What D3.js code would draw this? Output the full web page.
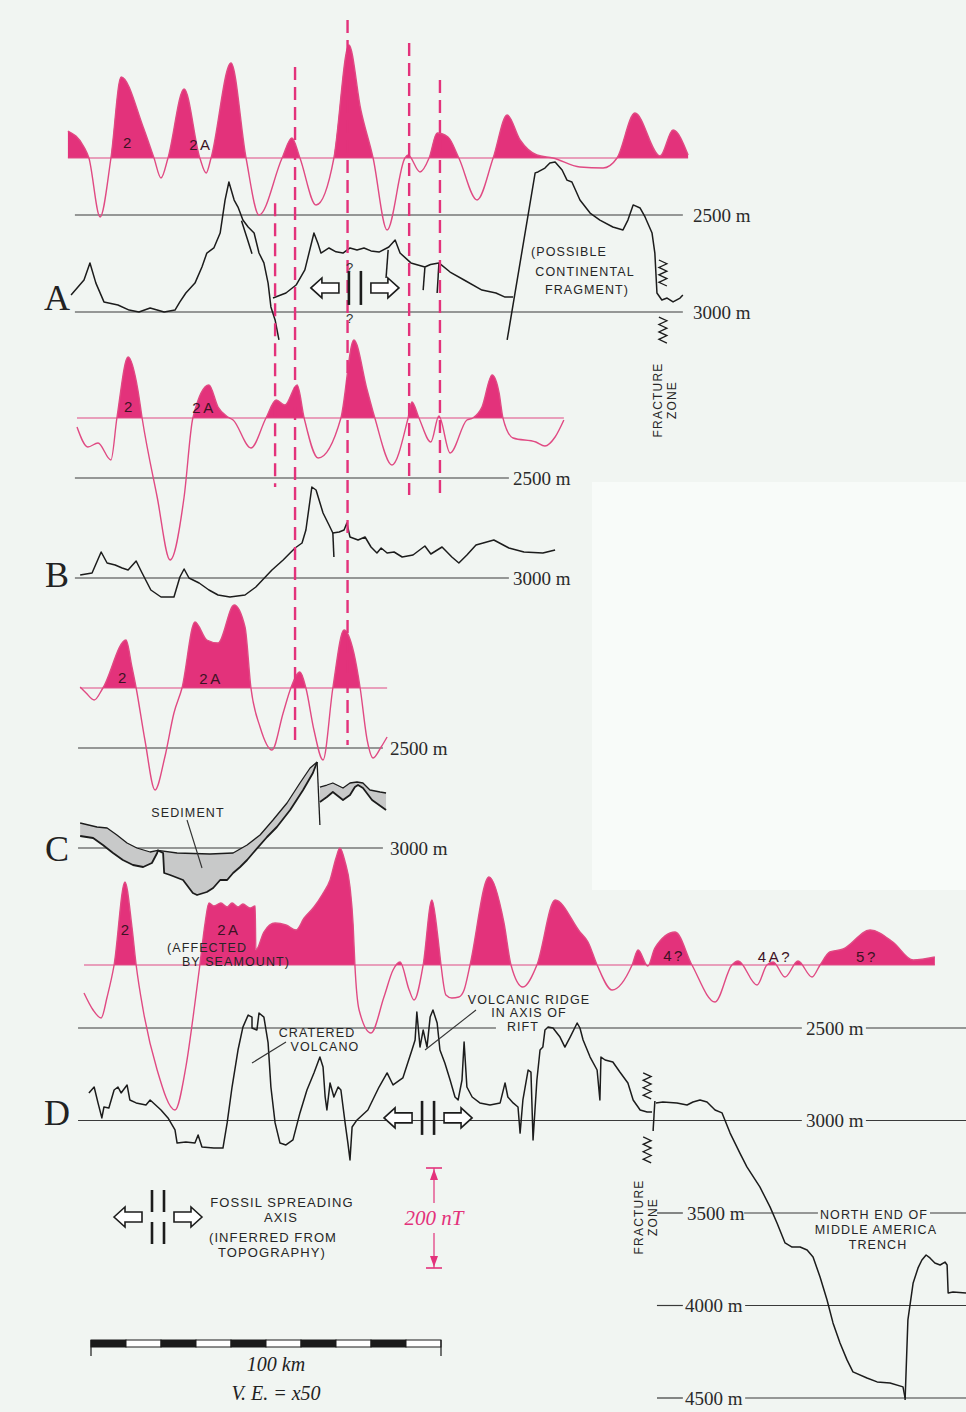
<!DOCTYPE html>
<html><head><meta charset="utf-8">
<script src="https://cdn.jsdelivr.net/npm/d3@7"></script>
<style>body{margin:0;background:#f2f6f3}svg{display:block}</style>
</head><body><svg id="c" width="966" height="1412"></svg>
<script>
// ---------------- DATA (x = distance in km, magnetics in nT, bathymetry in m) ----------------
const magA = [[19.4,54],[24.0,22],[25.4,0],[28.6,-118],[31.7,0],[34.6,162],[40.9,62],[44.0,0],[46.0,-40],[48.0,0],[52.6,138],[57.1,0],[58.9,-30],[60.3,0],[66.0,190],[70.3,0],[74.0,-114],[80.6,0],[83.4,40],[85.7,0],[90.3,-94],[95.4,0],[99.7,226],[103.1,96],[106.6,0],[110.6,-144],[115.7,0],[116.6,6],[120.0,-28],[122.6,0],[124.9,50],[128.0,42],[131.1,0],[136.3,-84],[140.9,0],[144.9,86],[148.6,36],[153.4,6],[158.0,0],[165.7,-18],[172.3,-20],[176.3,0],[181.4,90],[188.6,4],[192.3,56],[196.6,6]];
const magB = [[22.0,-18],[25.1,-58],[28.0,-50],[31.7,-84],[33.4,0],[36.6,122],[39.4,56],[40.6,0],[44.9,-158],[48.6,-284],[52.6,-158],[55.1,0],[59.7,66],[62.3,22],[65.1,2],[66.6,-4],[71.7,-60],[76.0,0],[78.9,36],[81.4,26],[84.9,66],[86.9,0],[90.9,-80],[97.4,0],[101.1,156],[104.9,56],[107.1,0],[112.0,-94],[116.6,0],[117.7,32],[119.7,0],[123.1,-48],[125.4,4],[128.6,-70],[133.4,-4],[135.1,0],[137.7,22],[140.6,86],[142.6,50],[143.7,0],[146.6,-40],[153.1,-48],[155.7,-56],[158.6,-38],[161.1,-4]];
const magC = [[22.9,2],[24.6,-10],[26.9,-24],[29.4,0],[36.0,96],[37.7,42],[38.9,0],[41.4,-104],[44.3,-204],[47.1,-138],[49.7,-50],[52.0,0],[55.7,132],[59.1,96],[62.3,90],[66.9,166],[70.0,122],[71.7,0],[74.3,-78],[77.7,-124],[80.9,-50],[83.1,0],[85.7,32],[87.4,0],[89.7,-84],[92.3,-144],[95.1,0],[98.3,116],[101.1,70],[102.9,0],[104.9,-104],[106.6,-140],[108.9,-118],[110.6,-98]];
const magD = [[24.0,-56],[26.6,-90],[28.9,-106],[30.6,-64],[32.6,0],[35.7,166],[37.7,76],[38.9,0],[40.9,-90],[44.9,-210],[50.0,-290],[53.1,-204],[55.7,-76],[57.1,0],[58.6,84],[59.7,124],[61.1,118],[63.1,124],[64.9,116],[66.3,124],[68.0,116],[69.4,122],[71.4,114],[72.9,118],[73.1,30],[75.4,66],[78.6,84],[81.7,80],[84.6,70],[86.9,94],[89.7,116],[92.0,140],[94.3,170],[96.0,214],[97.1,234],[98.6,206],[100.0,156],[100.9,80],[101.4,0],[102.6,-90],[106.0,-136],[109.7,-64],[112.3,-10],[114.3,6],[116.9,-50],[118.3,-70],[120.9,0],[123.4,130],[125.1,56],[126.0,0],[127.4,-60],[129.1,-66],[131.1,-64],[132.6,-50],[134.3,0],[139.7,176],[144.0,84],[146.0,0],[149.4,-44],[153.4,0],[158.6,130],[165.7,66],[168.0,46],[170.6,0],[174.9,-50],[180.6,0],[182.3,30],[185.1,-2],[187.1,34],[192.9,66],[197.7,0],[204.3,-74],[209.1,0],[210.9,8],[216.3,-40],[219.1,0],[220.9,6],[224.3,-24],[228.0,8],[232.0,-24],[234.3,0],[237.1,26],[240.9,32],[248.6,70],[255.1,46],[260.9,10],[267.1,16]];

const bathyA = [
 [[20.3,2912],[24.0,2835],[25.7,2747],[27.4,2851],[29.7,2948],[33.7,2964],[36.9,2990],[39.7,3000],[42.9,2979],[46.9,3000],[50.0,2990],[51.4,2948],[53.1,2902],[55.7,2851],[57.7,2768],[59.1,2696],[61.1,2670],[62.9,2593],[64.3,2423],[65.4,2330],[66.9,2423],[68.0,2459],[69.4,2526],[70.9,2562],[72.6,2593],[74.0,2696],[75.4,2747],[76.6,2851],[77.4,2974],[78.6,3041],[79.7,3144]],
 [[69.0,2530],[70.6,2620],[72.0,2700]],
 [[78.0,2928],[81.7,2902],[84.6,2861],[87.1,2783],[89.7,2593],[90.9,2650],[91.7,2696],[94.0,2670],[96.0,2690],[98.0,2696],[100.0,2670],[102.0,2680],[104.0,2670],[106.0,2685],[108.3,2691],[111.1,2665],[112.9,2629],[114.3,2696],[117.4,2747],[121.4,2768],[123.0,2755],[125.4,2747],[128.6,2794],[132.6,2835],[137.7,2887],[141.7,2902],[144.3,2923],[146.6,2923]],
 [[110.9,2680],[110.3,2825]],[[121.4,2770],[120.9,2887]],[[125.4,2750],[124.9,2902]],
 [[144.9,3144],[152.9,2283],[153.7,2278],[155.7,2258],[157.1,2232],[158.6,2227],[160.6,2268],[162.0,2320],[163.4,2330],[165.7,2423],[168.6,2490],[171.4,2526],[175.1,2562],[178.0,2577],[179.4,2526],[180.9,2448],[182.9,2464],[184.3,2510],[186.3,2593],[187.1,2696],[187.7,2902],[189.1,2938],[190.6,2928],[192.3,2948],[194.3,2928],[195.1,2912]]
];
const bathyB = [
 [[22.9,2985],[26.3,2975],[28.9,2870],[30.6,2925],[32.9,2935],[34.9,2950],[36.6,2960],[38.9,2915],[40.6,2975],[43.1,3060],[46.0,3095],[49.7,3095],[51.4,2995],[52.6,2955],[54.0,3000],[56.9,3025],[59.7,3060],[62.3,3085],[65.7,3095],[70.0,3085],[73.1,3045],[77.7,2960],[80.9,2910],[84.3,2850],[86.3,2825],[87.4,2760],[89.1,2545],[90.3,2560],[92.3,2675],[94.0,2735],[95.1,2775],[96.9,2770],[98.3,2760],[99.1,2725],[100.0,2795],[102.3,2810],[104.3,2795],[106.0,2845],[107.7,2875],[108.9,2850],[110.6,2875],[112.6,2870],[114.9,2895],[118.0,2885],[121.4,2840],[123.1,2880],[126.3,2845],[129.1,2895],[131.1,2925],[133.4,2885],[136.0,2835],[141.1,2810],[145.4,2850],[149.7,2870],[155.1,2875],[158.6,2860]],
 [[95.1,2775],[95.4,2895]]
];
// Profile C: sea floor (top of sediment) and basement (base of sediment)
const seaFloorC1 = [[22.9,2875],[27.7,2895],[30.6,2900],[33.4,2935],[36.3,2975],[39.1,3000],[42.9,3020],[45.1,3012],[50.6,3025],[60.0,3030],[66.6,3025],[70.6,2985],[74.3,2935],[78.0,2860],[82.0,2775],[85.7,2675],[88.6,2600],[90.6,2570]];
const basementC1 = [[22.9,2940],[26.6,2950],[29.4,2985],[32.3,3025],[35.1,3060],[38.0,3085],[40.9,3095],[43.4,3075],[44.9,3025],[45.1,3012],[46.6,3025],[46.9,3125],[48.6,3135],[52.3,3160],[55.1,3225],[56.3,3235],[59.1,3220],[60.9,3200],[62.9,3160],[64.9,3160],[66.6,3125],[68.6,3095],[70.6,3060],[72.3,3025],[76.3,2945],[79.1,2895],[82.9,2810],[86.6,2710],[89.4,2625],[90.6,2570]];
const seaFloorC2 = [[91.4,2695],[93.4,2685],[95.1,2675],[98.0,2700],[100.0,2675],[102.0,2670],[103.7,2675],[105.7,2710],[108.6,2720],[110.3,2725]];
const basementC2 = [[91.4,2770],[93.4,2745],[95.1,2720],[98.0,2760],[100.0,2735],[101.4,2695],[102.3,2685],[103.7,2700],[106.3,2760],[110.3,2810]];
const faultC = [[90.6,2570],[91.4,2885]];

const bathyD = [
 [[25.4,2851],[26.9,2819],[28.0,2905],[29.1,2986],[29.7,2927],[31.1,2932],[32.6,2835],[33.7,2819],[34.6,2851],[36.3,2808],[37.1,2889],[38.9,2905],[41.7,2916],[42.9,2889],[46.0,2943],[48.0,2986],[50.0,3051],[50.6,3122],[53.1,3116],[55.7,3122],[56.6,3078],[57.7,3143],[61.1,3149],[63.7,3149],[64.9,3013],[66.3,2819],[68.0,2619],[69.4,2495],[70.9,2430],[72.0,2441],[72.0,2500],[73.4,2511],[74.0,2419],[75.4,2441],[76.6,2581],[77.4,2819],[78.6,3013],[80.0,3122],[81.7,3132],[83.7,3105],[85.7,2959],[87.7,2835],[89.7,2743],[91.4,2657],[92.3,2711],[92.9,2873],[93.4,2943],[94.3,2797],[95.4,2873],[96.6,2819],[97.4,2835],[98.6,3013],[99.4,3122],[100.0,3213],[100.6,3035],[102.0,2997],[105.1,2943],[108.3,2819],[110.6,2743],[112.3,2808],[115.1,2770],[117.7,2619],[118.6,2565],[119.1,2414],[120.0,2603],[120.9,2511],[122.0,2603],[122.9,2441],[123.7,2403],[124.9,2473],[125.7,2619],[127.1,2689],[128.6,2781],[130.0,2873],[130.9,2889],[132.0,2781],[132.6,2576],[133.4,2819],[134.9,2873],[137.1,2905],[140.0,2916],[142.9,2905],[144.3,2797],[145.1,2873],[146.6,2905],[148.0,2927],[148.6,3068],[149.4,2889],[150.9,2727],[151.7,2738],[152.3,3105],[153.4,2781],[154.3,2619],[155.1,2603],[155.7,2511],[156.6,2495],[158.0,2500],[160.0,2549],[161.4,2603],[162.9,2549],[164.9,2473],[165.7,2500],[166.6,2565],[168.6,2657],[170.6,2727],[171.4,2889],[171.7,2657],[172.9,2673],[175.1,2684],[177.1,2738],[179.4,2797],[180.9,2889],[182.9,2943],[184.9,2954],[186.3,2954]],
 [[187.1,2895],[186.6,3057]],
 [[187.4,2905],[189.4,2900],[193.4,2905],[196.3,2916],[198.0,2900],[200.0,2889],[202.0,2900],[204.3,2943],[206.3,2959],[208.6,3068],[211.4,3176],[213.4,3251],[217.1,3359],[220.0,3467],[222.0,3554],[224.3,3662],[226.3,3684],[228.6,3684],[230.6,3700],[232.3,3738],[234.3,3846],[236.3,3970],[238.0,4094],[240.0,4203],[242.0,4294],[243.7,4359],[247.7,4392],[250.6,4413],[254.3,4419],[258.0,4440],[258.6,4500]],
 [[258.6,4511],[259.4,4078],[260.9,3878],[262.3,3797],[263.4,3754],[264.6,3727],[265.7,3743],[267.1,3770],[268.6,3781],[270.0,3765],[270.6,3781],[270.9,3932],[272.3,3927],[276.0,3932]]
];

// correlation lines (km, and the profile value at each end)
const dashLines = [
 {km:78.6, top:['A','d',2440], bot:['B','d',2545]},
 {km:84.3, top:['A','m',182], bot:['C','d',2485]},
 {km:99.3, top:['A','m',276], bot:['C','d',2485]},
 {km:116.9, top:['A','m',230], bot:['B','d',2585]},
 {km:125.7, top:['A','m',156], bot:['B','d',2585]}
];
const depthTicks = [
 {p:'A', depth:2500, segs:[[21.4,195.1]], label:'2500 m', at:198.0},
 {p:'A', depth:3000, segs:[[21.4,195.1]], label:'3000 m', at:198.0},
 {p:'B', depth:2500, segs:[[21.4,145.4]], label:'2500 m', at:146.6},
 {p:'B', depth:3000, segs:[[21.4,145.4]], label:'3000 m', at:146.6},
 {p:'C', depth:2500, segs:[[22.3,109.4]], label:'2500 m', at:111.4},
 {p:'C', depth:3000, segs:[[22.3,109.4]], label:'3000 m', at:111.4},
 {p:'D', depth:2500, segs:[[22.3,141.7],[156.6,229.1],[247.4,276]], label:'2500 m', at:230.3},
 {p:'D', depth:3000, segs:[[22.3,229.1],[247.4,276]], label:'3000 m', at:230.3},
 {p:'D', depth:3500, segs:[[187.7,195.1],[212.6,233.7],[265.7,276]], label:'3500 m', at:196.3},
 {p:'D', depth:4000, segs:[[187.7,195.1],[212.9,276]], label:'4000 m', at:195.7},
 {p:'D', depth:4500, segs:[[187.7,195.1],[212.9,276]], label:'4500 m', at:195.7}
];
// anomaly identifications: km position and the anomaly level (nT) where the label sits
const anomalyLabels = [
 {p:'A', km:36.3, nT:30, text:'2'}, {p:'A', km:57.4, nT:26, text:'2A'},
 {p:'B', km:36.6, nT:22, text:'2'}, {p:'B', km:58.3, nT:20, text:'2A'},
 {p:'C', km:34.9, nT:20, text:'2'}, {p:'C', km:60.3, nT:18, text:'2A'},
 {p:'D', km:35.7, nT:70, text:'2'}, {p:'D', km:65.4, nT:70, text:'2A'},
 {p:'D', km:192.6, nT:18, text:'4?'}, {p:'D', km:221.4, nT:16, text:'4A?'}, {p:'D', km:247.7, nT:16, text:'5?'}
];
const profileNames = ['A','B','C','D'];
const scaleBarKm = 100, scaleBarStep = 10, magBarNT = 200;

// ---------------- LAYOUT ----------------
const W = 966, H = 1412;
const L = {
 A:{base:158, dd:[2500,3000], dy:[215,312], ly:297},
 B:{base:418, dd:[2500,3000], dy:[478,578], ly:574},
 C:{base:688, dd:[2500,3000], dy:[748,848], ly:848},
 D:{base:965, dd:[2500,4500], dy:[1028,1398], ly:1112}
};
const PINK = '#e3327b', PINKLINE = '#e04a83', INK = '#1c1c1c', GRID = '#3a3a3a';
const SANS = '"Liberation Sans", Arial, sans-serif';
const SERIF = '"Liberation Serif", "DejaVu Serif", serif';

const svg = d3.select('#c');
const defs = svg.append('defs');
svg.append('rect').attr('width',W).attr('height',H).attr('fill','#f1f5f2');
svg.append('rect').attr('x',592).attr('y',482).attr('width',374).attr('height',408).attr('fill','#f8fbf9');

const x = d3.scaleLinear().domain([0,276]).range([0,W]);
const magY = p => d3.scaleLinear().domain([0,200]).range([L[p].base, L[p].base-100]);
const depY = p => d3.scaleLinear().domain(L[p].dd).range(L[p].dy);
const valY = (p,k,v) => k==='m' ? magY(p)(v) : depY(p)(v);

// depth reference lines
const gGrid = svg.append('g');
depthTicks.forEach(t => {
  const y = depY(t.p)(t.depth);
  t.segs.forEach(s => gGrid.append('line').attr('x1',x(s[0])).attr('x2',x(s[1])).attr('y1',y).attr('y2',y)
    .attr('stroke',GRID).attr('stroke-width',1.2));
  gGrid.append('text').attr('x',x(t.at)).attr('y',y).attr('dy','0.36em').text(t.label)
    .attr('font-family',SERIF).attr('font-size',19).attr('fill','#2a2a2a');
});

// sediment (profile C)
const yC = depY('C');
const pathL = d3.line().x(d=>x(d[0])).y(d=>yC(d[1]));
svg.append('path').attr('d', pathL(seaFloorC1.concat(basementC1.slice().reverse()))+'Z').attr('fill','#c8c9c9');
svg.append('path').attr('d', pathL(seaFloorC2.concat(basementC2.slice().reverse()))+'Z').attr('fill','#c8c9c9');
[seaFloorC1, basementC1, seaFloorC2, basementC2, faultC].forEach((s,i) =>
  svg.append('path').attr('d',pathL(s)).attr('fill','none').attr('stroke',INK)
    .attr('stroke-width', (i===1||i===3)?1.8:1.3).attr('stroke-linejoin','round'));

// magnetic anomalies
function drawMag(p, data){
  const y = magY(p);
  defs.append('clipPath').attr('id','clip'+p).append('rect').attr('x',0).attr('y',0).attr('width',W).attr('height',L[p].base);
  const area = d3.area().x(d=>x(d[0])).y0(y(0)).y1(d=>y(d[1])).curve(d3.curveMonotoneX);
  svg.append('path').attr('d',area(data)).attr('fill',PINK).attr('clip-path',`url(#clip${p})`);
  svg.append('line').attr('x1',x(data[0][0])).attr('x2',x(data[data.length-1][0]))
    .attr('y1',y(0)).attr('y2',y(0)).attr('stroke',PINKLINE).attr('stroke-width',1.2);
  const line = d3.line().x(d=>x(d[0])).y(d=>y(d[1])).curve(d3.curveMonotoneX);
  svg.append('path').attr('d',line(data)).attr('fill','none').attr('stroke',PINKLINE).attr('stroke-width',1.4);
}
drawMag('A',magA); drawMag('B',magB); drawMag('C',magC); drawMag('D',magD);

// bathymetry
function drawBathy(p, segs){
  const y = depY(p);
  const line = d3.line().x(d=>x(d[0])).y(d=>y(d[1]));
  segs.forEach(s => svg.append('path').attr('d',line(s)).attr('fill','none').attr('stroke',INK)
    .attr('stroke-width',1.5).attr('stroke-linejoin','round'));
}
drawBathy('A',bathyA); drawBathy('B',bathyB); drawBathy('D',bathyD);

// correlation dashed lines
dashLines.forEach(d => {
  svg.append('line').attr('x1',x(d.km)).attr('x2',x(d.km))
    .attr('y1',valY(...d.top)).attr('y2',valY(...d.bot))
    .attr('stroke',PINK).attr('stroke-width',2.4).attr('stroke-dasharray','13,7');
});

// anomaly labels
anomalyLabels.forEach(a => {
  svg.append('text').attr('x',x(a.km)).attr('y',magY(a.p)(a.nT)).attr('dy','0.35em').attr('text-anchor','middle')
    .attr('font-family',SANS).attr('font-size',15).attr('letter-spacing', a.text.length>1?2.5:0)
    .attr('fill','#3d1224').text(a.text);
});

// profile letters
profileNames.forEach(p => svg.append('text').attr('x',57).attr('y',L[p].ly).attr('dy','0.35em')
  .attr('text-anchor','middle').attr('font-family',SERIF).attr('font-size',36).attr('fill','#222').text(p));

// annotation text helper
function label(lines, cx, ys, size, anchor){
  lines.forEach((t,i)=> svg.append('text').attr('x',cx[i]!==undefined?cx[i]:cx[0]).attr('y',ys[i]).attr('dy','0.35em')
    .attr('text-anchor',anchor||'middle').attr('font-family',SANS).attr('font-size',size||12.5)
    .attr('letter-spacing',1.1).attr('fill','#262626').text(t));
}
label(['(POSSIBLE','CONTINENTAL','FRAGMENT)'], [569,585,587], [252,272,290]);
label(['SEDIMENT'], [188], [813]);
label(['(AFFECTED','BY SEAMOUNT)'], [207,236], [948,962]);
label(['CRATERED','VOLCANO'], [317,325], [1033,1047]);
label(['VOLCANIC RIDGE','IN AXIS OF','RIFT'], [529,529,523], [1000,1013,1027]);
label(['NORTH END OF','MIDDLE AMERICA','TRENCH'], [874,876,878], [1215,1230,1245]);
label(['FOSSIL SPREADING','AXIS','(INFERRED FROM','TOPOGRAPHY)'], [282,281,273,272], [1202,1217,1237,1252], 13);

// leader lines
[[187,820,202,868],[286,1042,252,1063],[476,1010,425,1050]].forEach(l =>
  svg.append('line').attr('x1',l[0]).attr('y1',l[1]).attr('x2',l[2]).attr('y2',l[3]).attr('stroke','#333').attr('stroke-width',1.1));

// fracture zone labels (rotated)
function fracture(cx, cy){
  const g = svg.append('g').attr('transform',`translate(${cx},${cy}) rotate(-90)`);
  g.append('text').attr('x',0).attr('y',-3).attr('text-anchor','middle').attr('font-family',SANS)
    .attr('font-size',12).attr('letter-spacing',1.2).attr('fill','#262626').text('FRACTURE');
  g.append('text').attr('x',0).attr('y',11).attr('text-anchor','middle').attr('font-family',SANS)
    .attr('font-size',12).attr('letter-spacing',1.2).attr('fill','#262626').text('ZONE');
}
fracture(665,400); fracture(646,1217);

// zigzag fracture symbols
function zigzag(cx, cy){
  const pts = d3.range(8).map(i => [cx + (i%2?4:-4), cy - 13 + i*26/7]);
  svg.append('path').attr('d', d3.line()(pts)).attr('fill','none').attr('stroke',INK).attr('stroke-width',1.3);
}
zigzag(x(189.4), depY('A')(2799)); zigzag(x(189.4), depY('A')(3093));
zigzag(x(184.9), depY('D')(2813)); zigzag(x(184.9), depY('D')(3159));

// spreading-axis symbol
function spread(cx, cy, split){
  const g = svg.append('g').attr('transform',`translate(${cx},${cy})`);
  const arrow = 'M0,0 L11,-10 L11,-5 L28,-5 L28,5 L11,5 L11,10 Z';
  g.append('path').attr('d',arrow).attr('transform','translate(-44,0)').attr('fill','#fff').attr('stroke',INK).attr('stroke-width',1.6);
  g.append('path').attr('d',arrow).attr('transform','translate(44,0) scale(-1,1)').attr('fill','#fff').attr('stroke',INK).attr('stroke-width',1.6);
  const spans = split ? [[-27,-5],[5,27]] : [[-17,17]];
  [-6,6].forEach(bx => spans.forEach(s => g.append('line').attr('x1',bx).attr('x2',bx).attr('y1',s[0]).attr('y2',s[1])
    .attr('stroke',INK).attr('stroke-width',2.6)));
}
spread(x(101.4), depY('A')(2876), false);
spread(x(122.3), depY('D')(2986), false);
spread(158, 1217, true);
[[99.9, 2770],[99.9, 3035]].forEach(q => svg.append('text').attr('x',x(q[0])).attr('y',depY('A')(q[1])).attr('dy','0.35em')
  .attr('text-anchor','middle').attr('font-family',SANS).attr('font-size',13).attr('fill','#333').text('?'));

// 200 nT bar
(function(){
  const bx = 434, top = 1168, bot = top + (magY('D')(0) - magY('D')(magBarNT));
  const g = svg.append('g').attr('stroke',PINK).attr('fill',PINK);
  g.append('line').attr('x1',bx-8).attr('x2',bx+8).attr('y1',top).attr('y2',top).attr('stroke-width',1.6);
  g.append('line').attr('x1',bx-8).attr('x2',bx+8).attr('y1',bot).attr('y2',bot).attr('stroke-width',1.6);
  g.append('line').attr('x1',bx).attr('x2',bx).attr('y1',top).attr('y2',top+35).attr('stroke-width',1.2);
  g.append('line').attr('x1',bx).attr('x2',bx).attr('y1',bot-35).attr('y2',bot).attr('stroke-width',1.2);
  g.append('path').attr('d',`M${bx},${top+1} L${bx-4},${top+12} L${bx+4},${top+12} Z`).attr('stroke','none');
  g.append('path').attr('d',`M${bx},${bot-1} L${bx-4},${bot-12} L${bx+4},${bot-12} Z`).attr('stroke','none');
  svg.append('text').attr('x',bx).attr('y',(top+bot)/2).attr('dy','0.35em').attr('text-anchor','middle')
    .attr('font-family',SERIF).attr('font-style','italic').attr('font-size',21).attr('fill',PINK).text('200 nT');
})();

// scale bar
(function(){
  const k0 = 26, yb = 1340;
  d3.range(0, scaleBarKm, scaleBarStep).forEach((k,i) =>
    svg.append('rect').attr('x',x(k0+k)).attr('y',yb).attr('width',x(k0+k+scaleBarStep)-x(k0+k)).attr('height',7)
      .attr('fill', i%2 ? '#fff' : '#1a1a1a').attr('stroke','#1a1a1a').attr('stroke-width',1));
  [k0, k0+scaleBarKm].forEach(k => svg.append('line').attr('x1',x(k)).attr('x2',x(k)).attr('y1',yb).attr('y2',yb+16)
    .attr('stroke','#1a1a1a').attr('stroke-width',1.2));
  const cx = (x(k0)+x(k0+scaleBarKm))/2 + 10;
  svg.append('text').attr('x',cx).attr('y',1371).attr('text-anchor','middle').attr('font-family',SERIF)
    .attr('font-style','italic').attr('font-size',20).attr('fill','#222').text(scaleBarKm+' km');
  svg.append('text').attr('x',cx).attr('y',1400).attr('text-anchor','middle').attr('font-family',SERIF)
    .attr('font-style','italic').attr('font-size',20).attr('fill','#222').text('V. E. = x50');
})();
</script></body></html>
